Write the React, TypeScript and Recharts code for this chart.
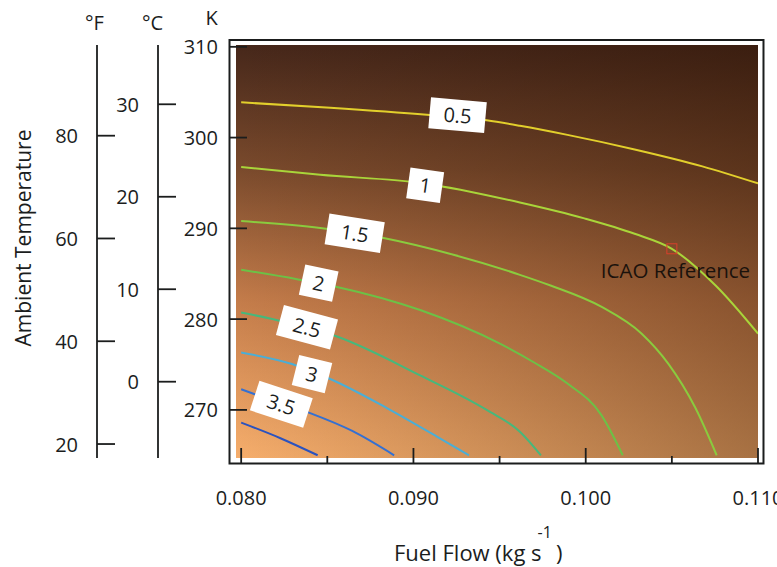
import React from 'react';
import { ComposedChart, Line, XAxis, YAxis, ReferenceArea, ReferenceDot } from 'recharts';

// axis ticks and domains
const fuelTicks = [0.08, 0.085, 0.09, 0.095, 0.1, 0.105, 0.11];
const kelvinTicks = [270, 280, 290, 300, 310];
const celsiusTicks = [0, 10, 20, 30];
const fahrenheitTicks = [20, 40, 60, 80];

const fuelDomain = [0.0797, 0.11];
const kelvinDomain = [264.7, 310.2];
const celsiusDomain = [-8.25, 36.41];
const fahrenheitDomain = [17.28, 97.65];

// contour lines: fuel flow (kg/s) vs ambient temperature (K)
const c05 = [
  { x: 0.08, k: 303.88 }, { x: 0.08517, k: 303.3 }, { x: 0.09078, k: 302.52 },
  { x: 0.09425, k: 301.9 }, { x: 0.09618, k: 301.3 }, { x: 0.09894, k: 300.3 },
  { x: 0.10284, k: 298.69 }, { x: 0.10677, k: 296.83 }, { x: 0.11, k: 294.95 },
];
const c10 = [
  { x: 0.08, k: 296.76 }, { x: 0.08459, k: 295.9 }, { x: 0.09062, k: 294.95 },
  { x: 0.09618, k: 292.85 }, { x: 0.09992, k: 291.1 }, { x: 0.10284, k: 289.4 },
  { x: 0.105, k: 287.75 }, { x: 0.10754, k: 283.7 }, { x: 0.11, k: 278.4 },
];
const c15 = [
  { x: 0.08, k: 290.8 }, { x: 0.08459, k: 290.03 }, { x: 0.08826, k: 288.93 },
  { x: 0.09232, k: 287.09 }, { x: 0.09618, k: 284.88 }, { x: 0.09796, k: 283.7 },
  { x: 0.1009, k: 281.37 }, { x: 0.10325, k: 278.39 }, { x: 0.10481, k: 275.04 },
  { x: 0.10637, k: 270.2 }, { x: 0.1076, k: 265.0 },
];
const c20 = [
  { x: 0.08, k: 285.44 }, { x: 0.08324, k: 284.4 }, { x: 0.08556, k: 283.55 },
  { x: 0.09039, k: 281.0 }, { x: 0.09502, k: 277.3 }, { x: 0.09698, k: 275.25 },
  { x: 0.09894, k: 272.9 }, { x: 0.1009, k: 269.45 }, { x: 0.10215, k: 265.0 },
];
const c25 = [
  { x: 0.08, k: 280.73 }, { x: 0.08199, k: 279.93 }, { x: 0.08556, k: 278.08 },
  { x: 0.09039, k: 273.8 }, { x: 0.09425, k: 270.0 }, { x: 0.09618, k: 267.6 },
  { x: 0.0974, k: 265.0 },
];
const c30 = [
  { x: 0.08, k: 276.32 }, { x: 0.08295, k: 275.05 }, { x: 0.08517, k: 273.4 },
  { x: 0.08846, k: 270.2 }, { x: 0.09136, k: 267.06 }, { x: 0.09322, k: 265.0 },
];
const c35 = [
  { x: 0.08, k: 272.28 }, { x: 0.08083, k: 271.7 }, { x: 0.0839, k: 269.72 },
  { x: 0.08645, k: 267.68 }, { x: 0.08888, k: 265.0 },
];
const c40 = [
  { x: 0.08, k: 268.6 }, { x: 0.08228, k: 266.88 }, { x: 0.08444, k: 265.0 },
];

const contours = [c05, c10, c15, c20, c25, c30, c35, c40];
const contourColors = ['#e2cf2c', '#a9d53a', '#8acb3e', '#6cc146', '#46b87c', '#4aaed6', '#3470d2', '#2a52bf'];

// contour label boxes (text, fuel flow, K)
const labelText = ['0.5', '1', '1.5', '2', '2.5', '3', '3.5'];
const labelX = [0.09256, 0.09068, 0.08659, 0.0845, 0.08382, 0.08411, 0.08233];
const labelK = [302.47, 294.75, 289.46, 283.97, 279.1, 273.95, 270.62];
const labelAngle = [5, 8, 9, 12, 15, 14, 18];

const icaoPoint = { x: 0.105, k: 287.75 };

const FONT = '"Open Sans", "Noto Sans", sans-serif';
const INK = '#1b1d1d';

// axis ids sort innermost first: a = K, b = °C, c = °F
const K_ID = 'a';
const C_ID = 'b';
const F_ID = 'c';

const KTick = (props: any) => {
  const { x, y, payload } = props;
  return (
    <g>
      <line x1={x - 6.5} x2={x + 11} y1={y} y2={y} stroke={INK} strokeWidth={1.8} />
      <text x={x - 18} y={y + 7.5} textAnchor="end" fontSize={20} fontFamily={FONT} fill={INK}>
        {payload.value}
      </text>
    </g>
  );
};

const SideTick = (props: any) => {
  const { x, y, payload } = props;
  return (
    <g>
      <line x1={x} x2={x + 18} y1={y} y2={y} stroke={INK} strokeWidth={1.8} />
      <text x={x - 19} y={y + 7.5} textAnchor="end" fontSize={20} fontFamily={FONT} fill={INK}>
        {payload.value}
      </text>
    </g>
  );
};

const FuelTick = (props: any) => {
  const { x, y, payload } = props;
  const v = payload.value;
  const major = Math.abs(Math.round(v * 100) - v * 100) < 1e-6;
  return (
    <g>
      <line x1={x} x2={x} y1={y + 5} y2={major ? y - 10 : y - 2} stroke={INK} strokeWidth={1.8} />
      {major && (
        <text x={x} y={y + 47} textAnchor="middle" fontSize={20} fontFamily={FONT} fill={INK}>
          {v.toFixed(3)}
        </text>
      )}
    </g>
  );
};

const header = (text: string, dx: number, baseline: number) => (p: any) => {
  const vb = p.viewBox;
  return (
    <text x={vb.x + vb.width + dx} y={baseline} textAnchor="middle" fontSize={20} fontFamily={FONT} fill={INK}>
      {text}
    </text>
  );
};

const fahrenheitLabel = (p: any) => {
  const vb = p.viewBox;
  const midY = vb.y + vb.height / 2;
  return (
    <g>
      <text x={vb.x + vb.width - 2.5} y={30} textAnchor="middle" fontSize={20} fontFamily={FONT} fill={INK}>
        °F
      </text>
      <text
        transform={`translate(${vb.x + 30.5}, ${midY - 13.5}) rotate(-90)`}
        textAnchor="middle"
        fontSize={21}
        fontFamily={FONT}
        fill={INK}
      >
        Ambient Temperature
      </text>
    </g>
  );
};

const fuelLabel = (p: any) => {
  const vb = p.viewBox;
  return (
    <text x={vb.x + 158} y={561} fontSize={22} fontFamily={FONT} fill={INK}>
      Fuel Flow (kg s
      <tspan dx={-4} dy={-23} fontSize={16}>-1</tspan>
      <tspan dx={4} dy={23}>)</tspan>
    </text>
  );
};

const ContourTag = (props: any) => {
  const { cx, cy, text, angle } = props;
  const w = text.length > 1 ? 56 : 34;
  return (
    <g transform={`translate(${cx}, ${cy}) rotate(${angle})`}>
      <rect x={-w / 2} y={-15.5} width={w} height={31} fill="#ffffff" />
      <text x={0} y={7.5} textAnchor="middle" fontSize={20} fontFamily={FONT} fill={INK}>
        {text}
      </text>
    </g>
  );
};

const IcaoMark = (props: any) => {
  const { cx, cy } = props;
  return (
    <g>
      <rect x={cx - 5} y={cy - 5} width={10} height={10} fill="none" stroke="#d8402c" strokeWidth={1} />
      <text x={cx - 71} y={cy + 29.5} fontSize={20.5} fontFamily={FONT} fill="#1a120c">
        ICAO Reference
      </text>
    </g>
  );
};

export default function App() {
  return (
    <div style={{ position: 'absolute', left: 0, top: 0, background: '#ffffff' }}>
      <ComposedChart width={777} height={567} margin={{ top: 45, right: 19, bottom: 0, left: 0 }}>
        <defs>
          <linearGradient id="bgVert" x1="0" y1="0" x2="0" y2="1">
            <stop offset="0%" stopColor="#46271a" />
            <stop offset="30%" stopColor="#7a4a2c" />
            <stop offset="62%" stopColor="#c47c4a" />
            <stop offset="100%" stopColor="#f6ae6c" />
          </linearGradient>
          <linearGradient id="bgHoriz" x1="0" y1="0" x2="1" y2="0">
            <stop offset="0%" stopColor="#280f00" stopOpacity={0} />
            <stop offset="100%" stopColor="#280f00" stopOpacity={0.38} />
          </linearGradient>
        </defs>
        <XAxis
          type="number"
          dataKey="x"
          domain={fuelDomain}
          ticks={fuelTicks}
          allowDataOverflow
          height={109}
          axisLine={false}
          tickLine={false}
          tickSize={0}
          tickMargin={0}
          tick={<FuelTick />}
          interval={0}
          label={{ content: fuelLabel }}
        />
        <YAxis
          yAxisId={K_ID}
          type="number"
          domain={kelvinDomain}
          ticks={kelvinTicks}
          allowDataOverflow
          width={78}
          axisLine={false}
          tickLine={false}
          tickSize={0}
          tickMargin={0}
          tick={<KTick />}
          interval={0}
          label={{ content: header('K', -24.5, 25) }}
        />
        <YAxis
          yAxisId={C_ID}
          type="number"
          domain={celsiusDomain}
          ticks={celsiusTicks}
          allowDataOverflow
          width={61}
          axisLine={{ stroke: INK, strokeWidth: 1.8 }}
          tickLine={false}
          tickSize={0}
          tickMargin={0}
          tick={<SideTick />}
          interval={0}
          label={{ content: header('°C', -5.5, 30) }}
        />
        <YAxis
          yAxisId={F_ID}
          type="number"
          domain={fahrenheitDomain}
          ticks={fahrenheitTicks}
          allowDataOverflow
          width={97}
          axisLine={{ stroke: INK, strokeWidth: 1.8 }}
          tickLine={false}
          tickSize={0}
          tickMargin={0}
          tick={<SideTick />}
          interval={0}
          label={{ content: fahrenheitLabel }}
        />
        <ReferenceArea
          yAxisId={K_ID}
          x1={fuelDomain[0]}
          x2={fuelDomain[1]}
          y1={kelvinDomain[0]}
          y2={kelvinDomain[1]}
          fill="url(#bgVert)"
          fillOpacity={1}
          stroke="none"
          zIndex={-500}
        />
        <ReferenceArea
          yAxisId={K_ID}
          x1={fuelDomain[0]}
          x2={fuelDomain[1]}
          y1={kelvinDomain[0]}
          y2={kelvinDomain[1]}
          fill="url(#bgHoriz)"
          fillOpacity={1}
          stroke="none"
          zIndex={-400}
        />
        <ReferenceArea
          yAxisId={K_ID}
          x1={0.079323}
          x2={0.110319}
          y1={264.1}
          y2={310.75}
          fill="none"
          stroke={INK}
          strokeWidth={2}
          ifOverflow="visible"
        />
        {contours.map((c, i) => (
          <Line
            key={i}
            yAxisId={K_ID}
            data={c}
            dataKey="k"
            type="monotone"
            stroke={contourColors[i]}
            strokeWidth={2}
            dot={false}
            activeDot={false}
            isAnimationActive={false}
          />
        ))}
        {labelText.map((t, i) => (
          <ReferenceDot
            key={t}
            yAxisId={K_ID}
            x={labelX[i]}
            y={labelK[i]}
            r={0}
            zIndex={2000}
            shape={(p: any) => <ContourTag {...p} text={t} angle={labelAngle[i]} />}
          />
        ))}
        <ReferenceDot
          yAxisId={K_ID}
          x={icaoPoint.x}
          y={icaoPoint.k}
          r={0}
          zIndex={2000}
          shape={(p: any) => <IcaoMark {...p} />}
        />
      </ComposedChart>
    </div>
  );
}
